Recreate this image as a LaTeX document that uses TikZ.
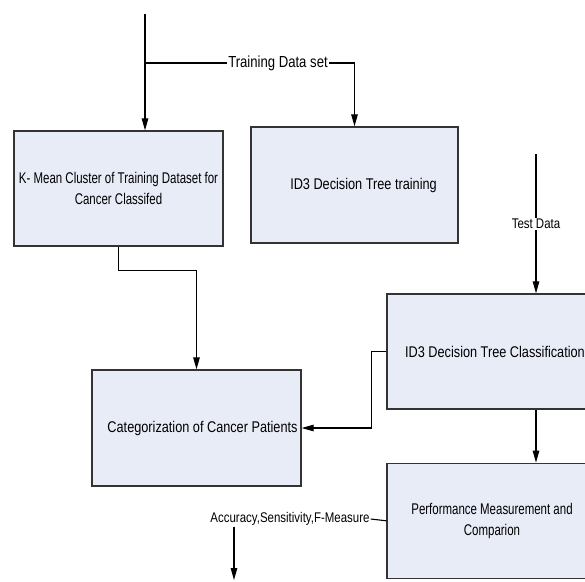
\documentclass[tikz,border=0pt]{standalone}
\usepackage{fontspec}
\setmainfont{Liberation Sans}[FakeStretch=0.82]
\newfontfamily\narrowsans{Liberation Sans}[FakeStretch=0.74]
\usepackage{tikz}
\usetikzlibrary{positioning, arrows.meta}
\definecolor{boxfill}{HTML}{E8ECF7}
\definecolor{boxline}{HTML}{333333}
\tikzset{
>={Triangle[length=12pt, width=6.5pt]}, % long filled heads
block/.style={draw=boxline, line width=1.3pt, fill=boxfill, minimum width=209pt, minimum height=115pt, align=center, font=\fontsize{15.5}{21}\selectfont}, % every process box
narrowblock/.style={block, font=\narrowsans\fontsize{15.5}{21}\selectfont}, % boxes with the tighter text
lbl/.style={inner sep=1pt, font=\fontsize{14}{16}\selectfont}, % text on the lines
flow/.style={line width=1.1pt}, % connectors
}
\begin{document}
\begin{tikzpicture}[x=1pt, y=-1pt]
            \useasboundingbox (0,0) rectangle (585,581);
            \clip (0,0) rectangle (585,581);
            \node[narrowblock] (kmean) at (118.5,188.5) {K- Mean Cluster of Training Dataset for\\Cancer Classifed};
            \node[block, minimum width=207pt, minimum height=116pt] (train) at (354.5,185) {\hspace*{18pt}ID3 Decision Tree training};
            \node[block, minimum height=116pt, inner xsep=2pt] (categ) at (196.5,428) {\hspace*{12pt}Categorization of Cancer Patients};
            \node[block, minimum width=210pt] (classif) at (492,351.5) {\hspace*{6pt}ID3 Decision Tree Classification};
            \node[narrowblock, minimum width=210pt, below=53pt of classif] (perf) {Performance Measurement and\\Comparion};
            \coordinate (trainin) at (145,14);
            \coordinate (testin) at (536,154);
            \coordinate (resout) at (234,580);
            \node[lbl, font=\fontsize{16}{18}\selectfont] (tds) at (278,63) {Training Data set};
            \node[lbl] (acc) at (290,519) {Accuracy,Sensitivity,F-Measure};
            \draw[flow, ->] (trainin) -- (trainin |- kmean.north);
            \draw[flow] (trainin |- tds) -- (tds.west);
            \draw[flow, ->] (tds.east) -| (train.north);
            \draw[flow, ->] (kmean.south) -- ++(0,24) -| (categ.north);
            \draw[flow, ->] (testin) -- node[lbl, fill=white] {Test Data} (testin |- classif.north);
            \draw[flow, ->] (classif.west) -- ++(-15,0) |- (categ.east);
            \draw[flow, ->] (classif.south -| testin) -- (perf.north -| testin);
            \draw[flow] (perf.west) -- (acc.east);
            \draw[flow, ->] (acc.south -| resout) -- (resout);
\end{tikzpicture}
\end{document}
